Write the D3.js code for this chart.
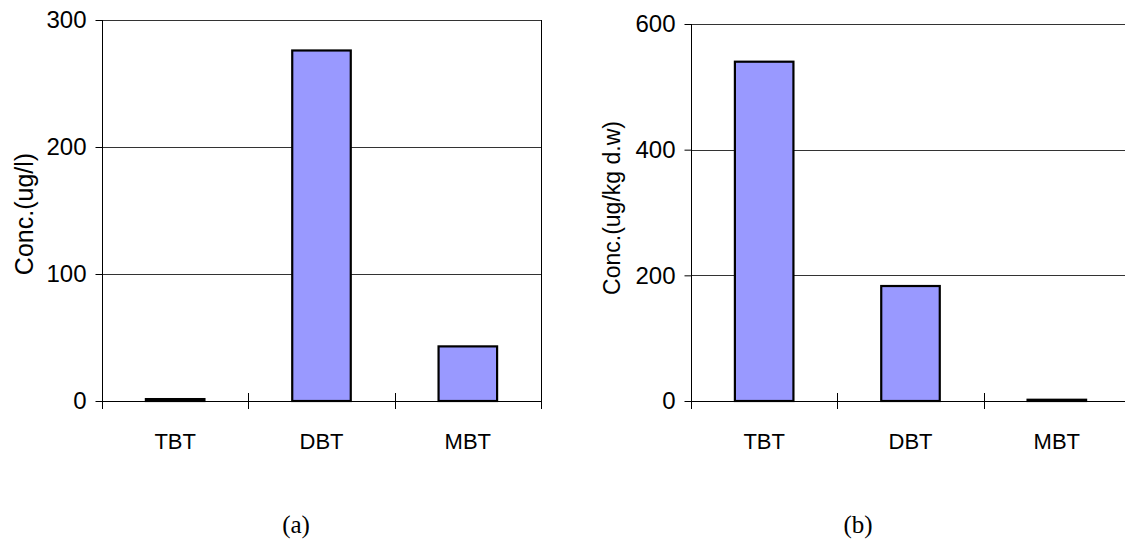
<!DOCTYPE html>
<html lang="en">
	<head>
		<meta charset="UTF-8">
		<title>Butyltin charts</title>
		<script src="https://d3js.org/d3.v7.min.js"></script>
		<style>
			body { margin: 0; background: #fff; }
			text { font-family: "Liberation Sans", Arial, sans-serif; fill: #000; }
		</style>
	</head>
	<body>
		<script>
			var categories = ['TBT', 'DBT', 'MBT'];
			var valuesA = [1.5, 276, 43];
			var valuesB = [540, 183, 2];
			var ticksA = [0, 100, 200, 300];
			var ticksB = [0, 200, 400, 600];

			var width = 1125, height = 556;

			var svg = d3.select('body')
						.append('svg')
						.attr('width', width)
						.attr('height', height);

			function drawChart(opts) {
				var g = svg.append('g');

				var x = d3.scaleBand()
							.domain(categories)
							.range([opts.left, opts.right])
							.paddingInner(0.6)
							.paddingOuter(0.3);

				var y = d3.scaleLinear()
							.domain([0, d3.max(opts.ticks)])
							.range([opts.bottom, opts.top]);

				// grid lines
				g.selectAll('.grid')
					.data(opts.ticks.slice(1))
					.enter()
						.append('line')
						.attr('x1', opts.left)
						.attr('x2', opts.right)
						.attr('y1', function(d) { return Math.round(y(d)) + 0.5; })
						.attr('y2', function(d) { return Math.round(y(d)) + 0.5; })
						.attr('stroke', '#333')
						.attr('stroke-width', 1);

				// right border
				g.append('line')
					.attr('x1', opts.right + 0.5)
					.attr('x2', opts.right + 0.5)
					.attr('y1', Math.round(opts.top))
					.attr('y2', opts.bottom + 8)
					.attr('stroke', '#000');

				// bars
				g.selectAll('rect')
					.data(opts.values)
					.enter()
						.append('rect')
						.attr('x', function(d, i) { return x(categories[i]); })
						.attr('width', x.bandwidth())
						.attr('y', function(d) { return y(d); })
						.attr('height', function(d) { return y(0) - y(d); })
						.attr('fill', '#9999ff')
						.attr('stroke', '#000')
						.attr('stroke-width', 2.2);

				// y axis
				var yAxis = d3.axisLeft(y)
								.tickValues(opts.ticks)
								.tickSize(7)
								.tickSizeOuter(0)
								.tickPadding(9)
								.tickFormat(d3.format('d'));
				var ya = g.append('g')
							.attr('transform', 'translate(' + (opts.left + 0.5) + ',0)')
							.call(yAxis);
				ya.select('.domain').attr('stroke', '#000').attr('d', 'M0,' + opts.top + 'V' + (opts.bottom + 8));
				ya.selectAll('line').attr('stroke', '#000');
				ya.selectAll('text')
					.style('font-size', '24px')
					.style('font-family', '"Liberation Sans", Arial, sans-serif');

				// x axis line
				g.append('line')
					.attr('x1', opts.left)
					.attr('x2', opts.right)
					.attr('y1', opts.bottom + 0.5)
					.attr('y2', opts.bottom + 0.5)
					.attr('stroke', '#000');

				// category separators
				var step = x.step();
				g.selectAll('.sep')
					.data(categories.slice(1))
					.enter()
						.append('line')
						.attr('x1', function(d) { return Math.round(x(d) - step * 0.3) + 0.5; })
						.attr('x2', function(d) { return Math.round(x(d) - step * 0.3) + 0.5; })
						.attr('y1', opts.bottom - 8)
						.attr('y2', opts.bottom + 8)
						.attr('stroke', '#000');

				// category labels
				g.selectAll('.cat')
					.data(categories)
					.enter()
						.append('text')
						.attr('x', function(d) { return x(d) + x.bandwidth() / 2; })
						.attr('y', opts.bottom + 48)
						.attr('text-anchor', 'middle')
						.style('font-size', '22px')
						.text(function(d) { return d; });

				// y label
				g.append('text')
					.attr('transform', 'translate(' + opts.labelX + ',' + opts.labelY + ') rotate(-90)')
					.attr('text-anchor', 'middle')
					.style('font-size', opts.labelSize + 'px')
					.text(opts.label);

				// panel letter
				g.append('text')
					.attr('x', opts.panelX)
					.attr('y', 533)
					.attr('text-anchor', 'middle')
					.style('font-family', '"Liberation Serif", "Times New Roman", serif')
					.style('font-size', '25px')
					.text(opts.panel);
			}

			drawChart({
				values: valuesA, ticks: ticksA,
				left: 102, right: 541, top: 20, bottom: 401,
				label: 'Conc.(ug/l)', labelX: 33, labelY: 214, labelSize: 25,
				panel: '(a)', panelX: 296
			});

			drawChart({
				values: valuesB, ticks: ticksB,
				left: 691, right: 1130, top: 24, bottom: 401,
				label: 'Conc.(ug/kg d.w)', labelX: 620, labelY: 208, labelSize: 23,
				panel: '(b)', panelX: 858
			});
		</script>
	</body>
</html>
